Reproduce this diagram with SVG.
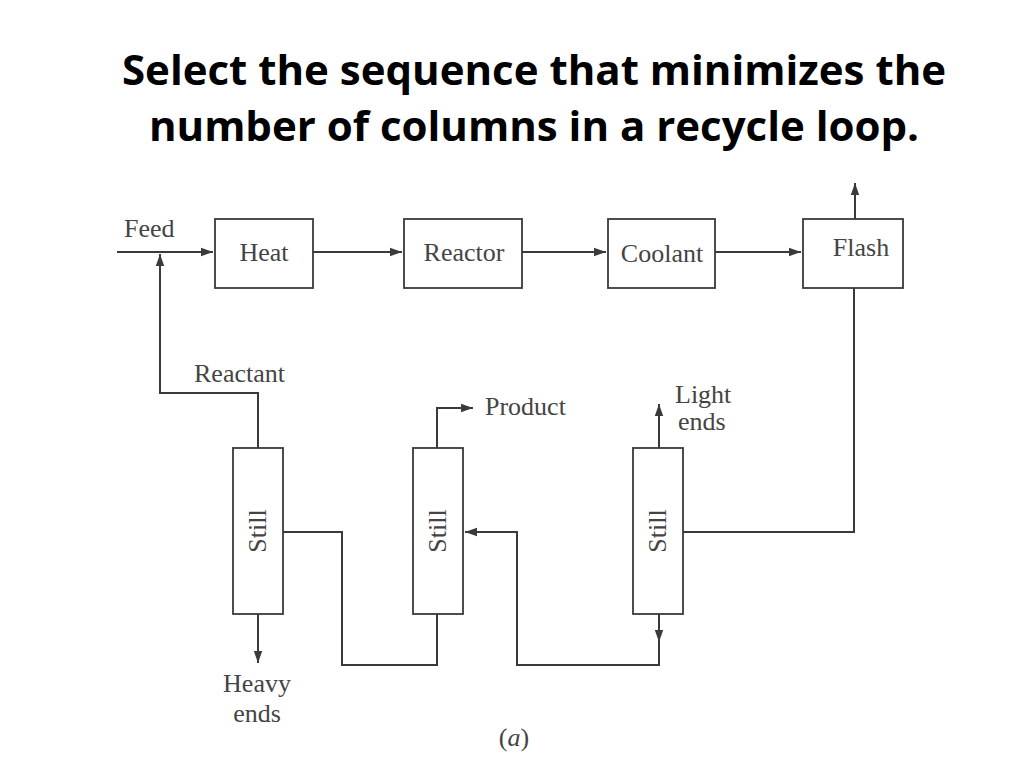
<svg xmlns="http://www.w3.org/2000/svg" width="1024" height="768" viewBox="0 0 1024 768">
<defs>
<marker id="arr" viewBox="0 0 10 10" refX="10" refY="5" markerWidth="12" markerHeight="12" markerUnits="userSpaceOnUse" orient="auto">
<path d="M0,1.5 L10,5 L0,8.5 Z" fill="#3a3a3a"/>
</marker>
<style>
.box{fill:#fff;stroke:#3a3a3a;stroke-width:1.8}
.ln{fill:none;stroke:#3a3a3a;stroke-width:2}
.t{font-family:"Liberation Serif","Times New Roman",serif;font-size:26px;fill:#444}
.c{text-anchor:middle}
.title{font-family:"Open Sans","Liberation Sans",sans-serif;font-weight:bold;font-size:42px;fill:#000;text-anchor:middle}
</style>
</defs>
<rect width="1024" height="768" fill="#fff"/>
<text class="title" x="534" y="85">Select the sequence that minimizes the</text>
<text class="title" x="534" y="141">number of columns in a recycle loop.</text>

<g id="connectors">
<path class="ln" d="M117,252 H213" marker-end="url(#arr)"/>
<path class="ln" d="M313,252 H402" marker-end="url(#arr)"/>
<path class="ln" d="M522,252 H606" marker-end="url(#arr)"/>
<path class="ln" d="M715,252 H801" marker-end="url(#arr)"/>
<path class="ln" d="M855,219 V183" marker-end="url(#arr)"/>
<path class="ln" d="M258,448 V393 H160 V254" marker-end="url(#arr)"/>
<path class="ln" d="M258,614 V663" marker-end="url(#arr)"/>
<path class="ln" d="M283,532 H342 V665 H437 V614"/>
<path class="ln" d="M437,448 V408 H473" marker-end="url(#arr)"/>
<path class="ln" d="M659,448 V404" marker-end="url(#arr)"/>
<path class="ln" d="M659,614 V642" marker-end="url(#arr)"/>
<path class="ln" d="M659,640 V665 H517 V532 H465" marker-end="url(#arr)"/>
<path class="ln" d="M683,532 H854 V288"/>
</g>

<g id="heat"><rect class="box" x="215" y="219" width="98" height="69"/><text class="t c" x="264" y="261">Heat</text></g>
<g id="reactor"><rect class="box" x="404" y="219" width="118" height="69"/><text class="t c" x="464" y="261">Reactor</text></g>
<g id="coolant"><rect class="box" x="608" y="219" width="107" height="69"/><text class="t c" x="662" y="262">Coolant</text></g>
<g id="flash"><rect class="box" x="803" y="219" width="100" height="69"/><text class="t c" x="861" y="256">Flash</text></g>
<g id="still1"><rect class="box" x="233" y="448" width="50" height="166"/><text class="t c" transform="translate(266,531) rotate(-90)">Still</text></g>
<g id="still2"><rect class="box" x="413" y="448" width="50" height="166"/><text class="t c" transform="translate(446,531) rotate(-90)">Still</text></g>
<g id="still3"><rect class="box" x="633" y="448" width="50" height="166"/><text class="t c" transform="translate(666,531) rotate(-90)">Still</text></g>

<g id="labels">
<text class="t" x="124" y="237">Feed</text>
<text class="t" x="194" y="382">Reactant</text>
<text class="t" x="485" y="415">Product</text>
<text class="t" x="675" y="403">Light</text>
<text class="t" x="678" y="430">ends</text>
<text class="t c" x="257" y="692">Heavy</text>
<text class="t c" x="257" y="722">ends</text>
<text class="t c" x="514" y="746">(<tspan font-style="italic">a</tspan>)</text>
</g>
</svg>
